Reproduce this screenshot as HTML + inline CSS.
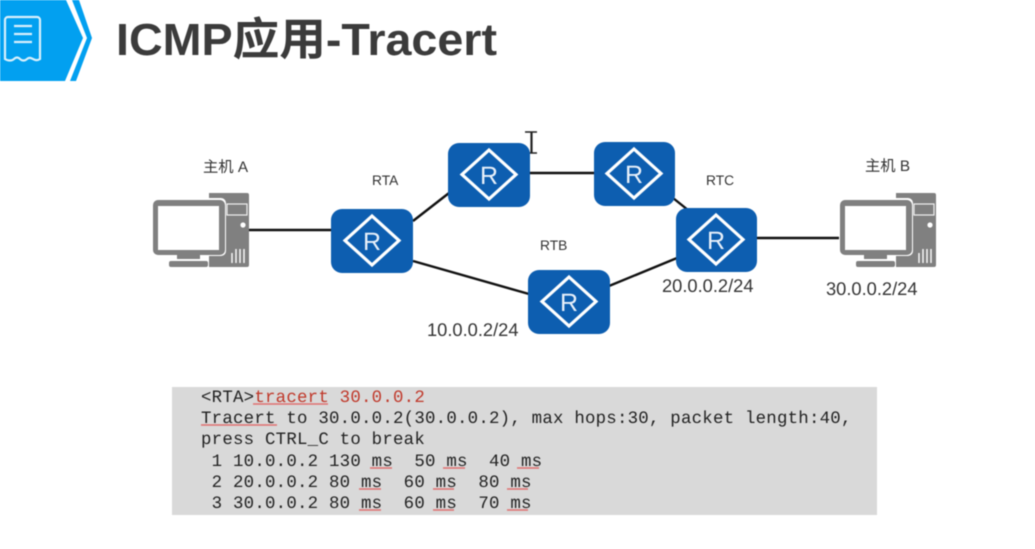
<!DOCTYPE html>
<html><head><meta charset="utf-8"><style>
html,body{margin:0;padding:0;background:#fff}
svg{display:block;filter:blur(.45px)}
text{text-rendering:geometricPrecision}
.s{font-family:"Liberation Sans","Noto Sans CJK SC",sans-serif;fill:#333;font-size:15.3px}
.l{font-family:"Liberation Sans",sans-serif;fill:#333;font-size:13.8px}
.n{font-family:"Liberation Sans",sans-serif;fill:#333;font-size:18.3px}
.m{font-family:"Liberation Mono",monospace;font-size:17.4px;letter-spacing:.23px;fill:#222;white-space:pre}
.w{fill:none;stroke:#e07070;stroke-width:1.4}
.rt{font-family:"Liberation Sans",sans-serif;font-size:25px;fill:#e8f0fa;text-anchor:middle}
.d{fill:none;stroke:#fff;stroke-width:3.2}
</style></head><body>
<svg width="1035" height="549" viewBox="0 0 1035 549" xmlns="http://www.w3.org/2000/svg">
<rect width="1035" height="549" fill="#fff"/>
<!-- header -->
<polygon points="0,0 66,0 83,38 65,81 0,81" fill="#02a0f0"/>
<polygon points="72,0 79,0 92,38 76,81 70,81 87,38" fill="#02a0f0"/>
<path d="M8,17h29a3,3 0 0 1 3,3v39c-3,2 -5,1 -7,0s-4,-2 -6,0s-5,2 -7,0s-4,-2 -6,0s-6,2 -9,0v-39a3,3 0 0 1 3,-3z" fill="none" stroke="#d8f0fc" stroke-width="2.2"/>
<path d="M14,26h18M14,34h18M14,42h18" stroke="#d8f0fc" stroke-width="2.2"/>
<text x="116" y="55" textLength="381" lengthAdjust="spacingAndGlyphs" font-family="'Liberation Sans','Noto Sans CJK SC',sans-serif" font-weight="700" font-size="45" fill="#3b3b3b">ICMP应用-Tracert</text>
<!-- links -->
<g stroke="#111" stroke-width="2.4" fill="none">
<path d="M248,230H332"/>
<path d="M413,221L449,193"/>
<path d="M413,261L529,294"/>
<path d="M530,173H594"/>
<path d="M673,198L688,210"/>
<path d="M609,286L677,258"/>
<path d="M757,238H840"/>
</g>
<!-- cursor -->
<path d="M525,132h12M525,153h12" stroke="#222" stroke-width="1.6" fill="none"/>
<path d="M531.5,132v21" stroke="#222" stroke-width="2.2" fill="none"/>
<rect x="524" y="152" width="6" height="2" fill="#999"/>
<!-- routers -->
<g transform="translate(331,209)"><rect width="82" height="64" rx="11" fill="#0d5eb0"/><polygon points="41,7 68,31.5 41,56 14,31.5" class="d"/><text x="41" y="41" class="rt">R</text></g>
<g transform="translate(448,143)"><rect width="82" height="64" rx="11" fill="#0d5eb0"/><polygon points="41,7 68,31.5 41,56 14,31.5" class="d"/><text x="41" y="41" class="rt">R</text></g>
<g transform="translate(594,142)"><rect width="81" height="64" rx="11" fill="#0d5eb0"/><polygon points="40,7 67,31.5 40,56 13,31.5" class="d"/><text x="40" y="41" class="rt">R</text></g>
<g transform="translate(676,208)"><rect width="81" height="64" rx="11" fill="#0d5eb0"/><polygon points="40,7 67,31.5 40,56 13,31.5" class="d"/><text x="40" y="41" class="rt">R</text></g>
<g transform="translate(528,270)"><rect width="82" height="64" rx="11" fill="#0d5eb0"/><polygon points="41,7 68,31.5 41,56 14,31.5" class="d"/><text x="41" y="41" class="rt">R</text></g>
<!-- host A -->
<g transform="translate(153,193)">
<path d="M56,0h38a2,2 0 0 1 2,2v70a2,2 0 0 1 -2,2h-38z" fill="#808080"/>
<rect x="74" y="11" width="20" height="11" fill="#808080" stroke="#f0f0f0" stroke-width="1.2"/>
<circle cx="90" cy="32" r="2.6" fill="#fff"/>
<path d="M83,56v14M87,56v14M91,56v14M79,60v10" stroke="#fff" stroke-width="1.4"/>
<rect x="-1" y="5" width="74" height="58" rx="5" fill="#fff"/>
<rect x="0" y="7" width="72" height="55" rx="5" fill="#808080"/>
<rect x="5" y="13" width="61" height="44" fill="#fff"/>
<rect x="24" y="62" width="23" height="4" fill="#808080"/>
<rect x="16" y="68" width="39" height="6" rx="2" fill="#808080"/>
</g>
<!-- host B -->
<g transform="translate(840,193)">
<path d="M56,0h38a2,2 0 0 1 2,2v70a2,2 0 0 1 -2,2h-38z" fill="#808080"/>
<rect x="74" y="11" width="20" height="11" fill="#808080" stroke="#f0f0f0" stroke-width="1.2"/>
<circle cx="90" cy="32" r="2.6" fill="#fff"/>
<path d="M83,56v14M87,56v14M91,56v14M79,60v10" stroke="#fff" stroke-width="1.4"/>
<rect x="-1" y="5" width="74" height="58" rx="5" fill="#fff"/>
<rect x="0" y="7" width="72" height="55" rx="5" fill="#808080"/>
<rect x="5" y="13" width="61" height="44" fill="#fff"/>
<rect x="24" y="62" width="23" height="4" fill="#808080"/>
<rect x="16" y="68" width="39" height="6" rx="2" fill="#808080"/>
</g>
<!-- labels -->
<text class="s" x="203" y="172">主机 A</text>
<text class="l" x="372" y="185">RTA</text>
<text class="l" x="540" y="250">RTB</text>
<text class="l" x="706" y="185">RTC</text>
<text class="s" x="865" y="171">主机 B</text>
<text class="n" x="427" y="336">10.0.0.2/24</text>
<text class="n" x="662" y="292">20.0.0.2/24</text>
<text class="n" x="826" y="295">30.0.0.2/24</text>
<!-- console -->
<rect x="172" y="387" width="705" height="128" fill="#d9d9d9"/>
<text class="m" x="201" y="402">&lt;RTA&gt;<tspan fill="#c0392b">tracert 30.0.0.2</tspan></text>
<text class="m" x="201" y="423">Tracert to 30.0.0.2(30.0.0.2), max hops:30, packet length:40,</text>
<text class="m" x="201" y="444">press CTRL_C to break</text>
<text class="m" x="201" y="466"> 1 10.0.0.2 130 ms  50 ms  40 ms</text>
<text class="m" x="201" y="487"> 2 20.0.0.2 80 ms  60 ms  80 ms</text>
<text class="m" x="201" y="508"> 3 30.0.0.2 80 ms  60 ms  70 ms</text>
<g class="w">
<path d="M253,404h75"/>
<path d="M201,425h76"/>
<path d="M370,468h22M443,468h22M517,468h22"/>
<path d="M359,489h22M433,489h21M507,489h21"/>
<path d="M359,510h22M433,510h21M507,510h21"/>
</g>
</svg>
</body></html>
